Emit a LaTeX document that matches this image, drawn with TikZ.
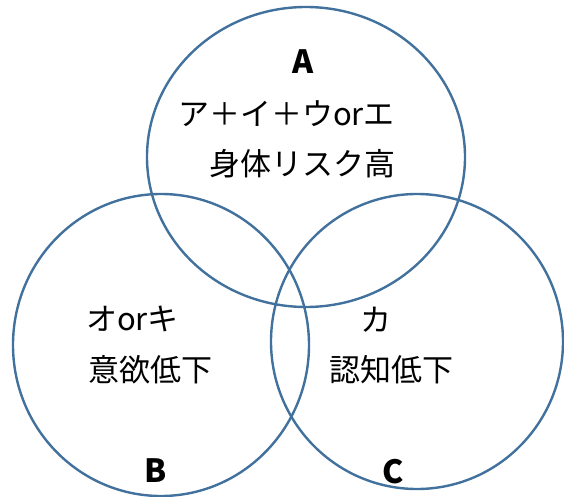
\documentclass[tikz,border=0pt]{standalone}
\usepackage{fontspec}
\setmainfont{Noto Sans CJK JP}
\begin{document}
\begin{tikzpicture}[x=1pt,y=-1pt,
  ring/.style={draw={rgb,255:red,65;green,113;blue,156},line width=2.4pt},
  jtext/.style={inner sep=0pt,anchor=center,font=\fontsize{31}{37}\selectfont},
  setlabel/.style={inner sep=0pt,anchor=center,font=\fontsize{32}{38}\selectfont\bfseries}]
\useasboundingbox (0,0) rectangle (564,497);
\draw[ring] (306,157) ellipse [x radius=159pt, y radius=150pt];
\draw[ring] (161,345) ellipse [x radius=148pt, y radius=151pt];
\draw[ring] (417,341.5) ellipse [x radius=146pt, y radius=147.5pt];
\node[setlabel] (la) at (303,62) {A};
\node[setlabel] (lb) at (156,471) {B};
\node[setlabel] (lc) at (393,472) {C};
\node[jtext] (a1) at (286.5,114) {ア＋イ＋ウorエ};
\node[jtext] (a2) at (302,164) {身体リスク高};
\node[jtext] (b1) at (132.5,319) {オorキ};
\node[jtext] (b2) at (150,369.5) {意欲低下};
\node[jtext] (c1) at (376,319.5) {カ};
\node[jtext] (c2) at (391.5,369.5) {認知低下};
\end{tikzpicture}
\end{document}
